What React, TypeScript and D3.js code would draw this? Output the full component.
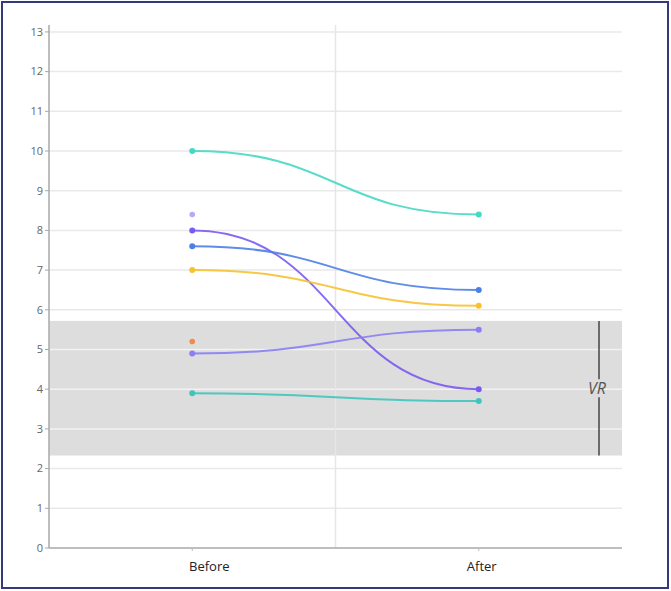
import React from "react";
import * as d3 from "d3";

const categories = ["Before", "After"];
const yTicks = [0, 1, 2, 3, 4, 5, 6, 7, 8, 9, 10, 11, 12, 13];
const vrRange = [2.33, 5.72];

const seriesNames = ["tealTop", "purple", "blue", "yellow", "lavender", "tealBottom"];
const beforeValues = [10.0, 8.0, 7.6, 7.0, 4.9, 3.9];
const afterValues = [8.4, 4.0, 6.5, 6.1, 5.5, 3.7];
const seriesColors = ["#47d8c4", "#7a5af0", "#4c80e6", "#f5c232", "#8a7ef4", "#3fc6bb"];

const singlePointValues = [8.4, 5.2];
const singlePointColors = ["#b6aaf8", "#f28a4c"];

export default function App() {
  const W = 671, H = 591;
  const left = 49, right = 622, top = 25, bottom = 548;
  const x = d3.scaleBand<string>().domain(categories).range([left, right]).padding(0);
  const y = d3.scaleLinear().domain([0, 13]).range([bottom, bottom - 13 * 39.7]);
  const cx = (c: string) => (x(c) as number) + x.bandwidth() / 2;
  const labelDx = [17, 3];
  const line = d3
    .line<[number, number]>()
    .x((d) => d[0])
    .y((d) => d[1])
    .curve(d3.curveBumpX);
  const font = "'Segoe UI', 'Open Sans', 'Noto Sans', sans-serif";
  const vrMid = y((vrRange[0] + vrRange[1]) / 2);

  return (
    <svg width={W} height={H} style={{ position: "absolute", left: 0, top: 0 }} fontFamily={font}>
      <rect x={0} y={0} width={W} height={H} fill="#fff" />
      <rect x={2} y={2} width={W - 5} height={H - 5} fill="none" stroke="#2e3d78" strokeWidth={2} />
      {/* VR band */}
      <rect x={left} y={y(vrRange[1])} width={right - left} height={y(vrRange[0]) - y(vrRange[1])} fill="#dddddd" />
      {/* gridlines */}
      {yTicks.slice(1).map((t) => {
        const inBand = t >= vrRange[0] && t <= vrRange[1];
        return (
          <line key={t} x1={left} x2={right} y1={y(t)} y2={y(t)} stroke={inBand ? "#f2f2f2" : "#e9e9e9"} strokeWidth={1.5} />
        );
      })}
      {/* category boundary */}
      <line x1={(x("After") as number)} x2={(x("After") as number)} y1={top} y2={bottom} stroke="#e6e6e6" strokeWidth={1.5} />
      {/* axes */}
      <line x1={left} x2={left} y1={top} y2={bottom} stroke="#a8a8a8" strokeWidth={1.5} />
      <line x1={left} x2={right} y1={bottom} y2={bottom} stroke="#a8a8a8" strokeWidth={1.5} />
      {yTicks.map((t) => (
        <g key={t}>
          <line x1={left - 4} x2={left} y1={y(t)} y2={y(t)} stroke="#a8a8a8" />
          <text x={left - 6} y={y(t)} dy="0.35em" textAnchor="end" fontSize={11} fill="#666">
            {t}
          </text>
        </g>
      ))}
      {categories.map((c, i) => (
        <g key={c}>
          <line x1={cx(c)} x2={cx(c)} y1={bottom} y2={bottom + 3} stroke="#bbb" />
          <text x={cx(c) + labelDx[i]} y={bottom + 23} textAnchor="middle" fontSize={13} fill="#222">
            {c}
          </text>
        </g>
      ))}
      {/* VR marker */}
      <line x1={599} x2={599} y1={y(vrRange[1])} y2={vrMid - 9} stroke="#444" strokeWidth={1.5} />
      <line x1={599} x2={599} y1={vrMid + 9} y2={y(vrRange[0])} stroke="#444" strokeWidth={1.5} />
      <text x={597} y={vrMid} dy="0.36em" textAnchor="middle" fontSize={16} fontStyle="italic" fill="#555">
        VR
      </text>
      {/* series */}
      {seriesNames.map((n, i) => {
        const pts: [number, number][] = [
          [cx("Before"), y(beforeValues[i])],
          [cx("After"), y(afterValues[i])],
        ];
        return (
          <g key={n}>
            <path d={line(pts) || ""} fill="none" stroke={seriesColors[i]} strokeWidth={2} strokeOpacity={0.9} />
            {pts.map((p, j) => (
              <circle key={j} cx={p[0]} cy={p[1]} r={3} fill={seriesColors[i]} />
            ))}
          </g>
        );
      })}
      {singlePointValues.map((v, i) => (
        <circle key={i} cx={cx("Before")} cy={y(v)} r={2.8} fill={singlePointColors[i]} />
      ))}
    </svg>
  );
}
